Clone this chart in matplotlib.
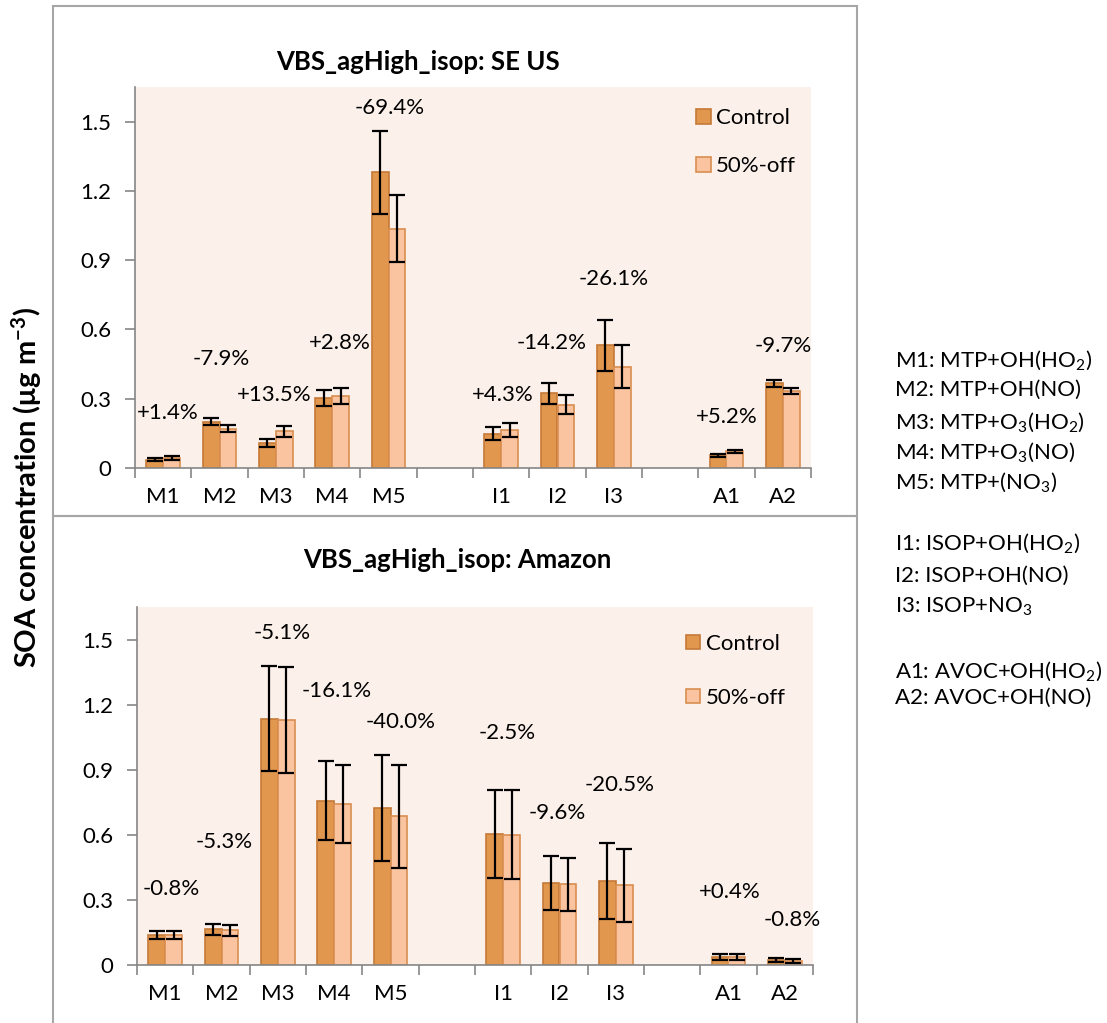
import numpy as np
import matplotlib
matplotlib.use("Agg")
import matplotlib.pyplot as plt
from matplotlib.patches import Rectangle

plt.rcParams['font.family'] = ['Lato', 'DejaVu Sans']
plt.rcParams['mathtext.fontset'] = 'custom'
plt.rcParams['mathtext.rm'] = 'Lato'
plt.rcParams['mathtext.it'] = 'Lato:italic'
plt.rcParams['mathtext.bf'] = 'Lato:bold'

# categories (empty strings are the gaps between the groups)
cats = ["M1", "M2", "M3", "M4", "M5", "", "I1", "I2", "I3", "", "A1", "A2"]

# SE US
se_ctrl = [0.036, 0.200, 0.108, 0.304, 1.280, np.nan, 0.149, 0.323, 0.532, np.nan, 0.055, 0.366]
se_ctrl_err = [0.007, 0.015, 0.017, 0.035, 0.181, 0, 0.027, 0.047, 0.110, 0, 0.007, 0.014]
se_off = [0.043, 0.171, 0.159, 0.312, 1.037, np.nan, 0.165, 0.275, 0.438, np.nan, 0.072, 0.334]
se_off_err = [0.007, 0.014, 0.024, 0.035, 0.147, 0, 0.029, 0.040, 0.093, 0, 0.007, 0.014]
se_pct = ["+1.4%", "-7.9%", "+13.5%", "+2.8%", "-69.4%", "", "+4.3%", "-14.2%", "-26.1%", "", "+5.2%", "-9.7%"]
se_pct_y = [0.24, 0.47, 0.318, 0.54, 1.56, 0, 0.315, 0.54, 0.817, 0, 0.221, 0.528]
se_pct_dx = [0.09, 0.03, -0.03, 0.14, 0.02, 0, 0.03, -0.1, 0.0, 0, 0.0, 0.0]

# Amazon
am_ctrl = [0.137, 0.164, 1.135, 0.757, 0.723, np.nan, 0.605, 0.379, 0.387, np.nan, 0.037, 0.021]
am_ctrl_err = [0.018, 0.025, 0.241, 0.183, 0.245, 0, 0.203, 0.124, 0.174, 0, 0.015, 0.009]
am_off = [0.137, 0.160, 1.128, 0.742, 0.686, np.nan, 0.600, 0.372, 0.367, np.nan, 0.037, 0.020]
am_off_err = [0.018, 0.025, 0.244, 0.180, 0.238, 0, 0.205, 0.121, 0.167, 0, 0.015, 0.009]
am_pct = ["-0.8%", "-5.3%", "-5.1%", "-16.1%", "-40.0%", "", "-2.5%", "-9.6%", "-20.5%", "", "+0.4%", "-0.8%"]
am_pct_y = [0.35, 0.565, 1.528, 1.262, 1.121, 0, 1.07, 0.699, 0.829, 0, 0.338, 0.207]
am_pct_dx = [0.1, 0.04, 0.07, 0.05, 0.18, 0, 0.07, -0.04, 0.07, 0, 0.02, 0.14]

yticks = [0, 0.3, 0.6, 0.9, 1.2, 1.5]
ytick_labels = ["0", "0.3", "0.6", "0.9", "1.2", "1.5"]

notes = ["M1: MTP+OH(HO$_2$)", "M2: MTP+OH(NO)", "M3: MTP+O$_3$(HO$_2$)",
         "M4: MTP+O$_3$(NO)", "M5: MTP+(NO$_3$)",
         "I1: ISOP+OH(HO$_2$)", "I2: ISOP+OH(NO)", "I3: ISOP+NO$_3$",
         "A1: AVOC+OH(HO$_2$)", "A2: AVOC+OH(NO)"]
notes_y = [360, 390, 422, 452, 482, 543, 576, 607, 671, 698]

W, H = 1107, 1023
C_CTRL, E_CTRL = "#E2974F", "#C57A38"
C_OFF, E_OFF = "#FBC4A1", "#D98E50"
BG = "#FCF0EA"


def fx(px):
    return px / W


def fy(py):
    return 1 - py / H


def panel(fig, box, title, title_xy, ctrl, ctrl_err, off, off_err, pct, pct_y, pct_dx,
          leg_anchor, leg_space):
    x0, y0, x1, y1 = box
    ax = fig.add_axes([fx(x0), fy(y1), (x1 - x0) / W, (y1 - y0) / H])
    ax.set_facecolor(BG)
    x = np.arange(len(cats))
    w = 0.3
    ekw = dict(ecolor="black", elinewidth=1.6, capsize=5.5, capthick=1.6)
    ax.bar(x - w / 2, ctrl, w, yerr=ctrl_err, color=C_CTRL, edgecolor=E_CTRL,
           linewidth=1.2, error_kw=ekw, label="Control")
    ax.bar(x + w / 2, off, w, yerr=off_err, color=C_OFF, edgecolor=E_OFF,
           linewidth=1.2, error_kw=ekw, label="50%-off")
    for i, s in enumerate(pct):
        if s:
            ax.text(i + pct_dx[i], pct_y[i], s, ha="center", va="center", fontsize=16)
    ax.set_xlim(-0.5, len(cats) - 0.5)
    ax.set_ylim(0, 1.65)
    ax.set_yticks(yticks)
    ax.set_yticklabels(ytick_labels, fontsize=16)
    ax.set_xticks(x)
    ax.set_xticklabels(cats, fontsize=16)
    ax.set_xticks(np.arange(-0.5, len(cats)), minor=True)
    ax.tick_params(axis="x", which="major", length=0, pad=14)
    ax.tick_params(axis="x", which="minor", length=7, width=1.2, color="#868686")
    ax.tick_params(axis="y", length=7, width=1.2, color="#868686", pad=10)
    for sp in ["top", "right"]:
        ax.spines[sp].set_visible(False)
    for sp in ["left", "bottom"]:
        ax.spines[sp].set_color("#868686")
        ax.spines[sp].set_linewidth(1.2)
    ax.legend(loc="upper left", bbox_to_anchor=leg_anchor, frameon=False, fontsize=16,
              handlelength=0.65, handleheight=0.65, handletextpad=0.25,
              labelspacing=leg_space, borderpad=0, borderaxespad=0)
    fig.text(fx(title_xy[0]), fy(title_xy[1]), title, ha="center", va="center",
             fontsize=18.5, fontweight="bold")
    return ax


fig = plt.figure(figsize=(W / 100, H / 100), dpi=100)

# chart area borders
for (bx0, by0, bx1, by1) in [(53, 6, 857, 516), (53, 516, 857, 1030)]:
    fig.patches.append(Rectangle((fx(bx0), fy(by1)), (bx1 - bx0) / W, (by1 - by0) / H,
                                 transform=fig.transFigure, fill=False,
                                 edgecolor="#A6A6A6", linewidth=1.5))

panel(fig, (135, 87, 811, 468), "VBS_agHigh_isop: SE US", (418, 62),
      se_ctrl, se_ctrl_err, se_off, se_off_err, se_pct, se_pct_y, se_pct_dx,
      (0.83, 0.944), 1.26)
panel(fig, (137, 607, 813, 965), "VBS_agHigh_isop: Amazon", (457, 560),
      am_ctrl, am_ctrl_err, am_off, am_off_err, am_pct, am_pct_y, am_pct_dx,
      (0.812, 0.925), 1.53)

fig.text(fx(27), fy(488), "SOA concentration (\u03bcg m$^{\\mathbf{-3}}$)", rotation=90,
         ha="center", va="center", fontsize=21, fontweight="bold")

for s, yy in zip(notes, notes_y):
    fig.text(fx(895), fy(yy), s, ha="left", va="center", fontsize=16)

plt.savefig("out.png", dpi=100)
